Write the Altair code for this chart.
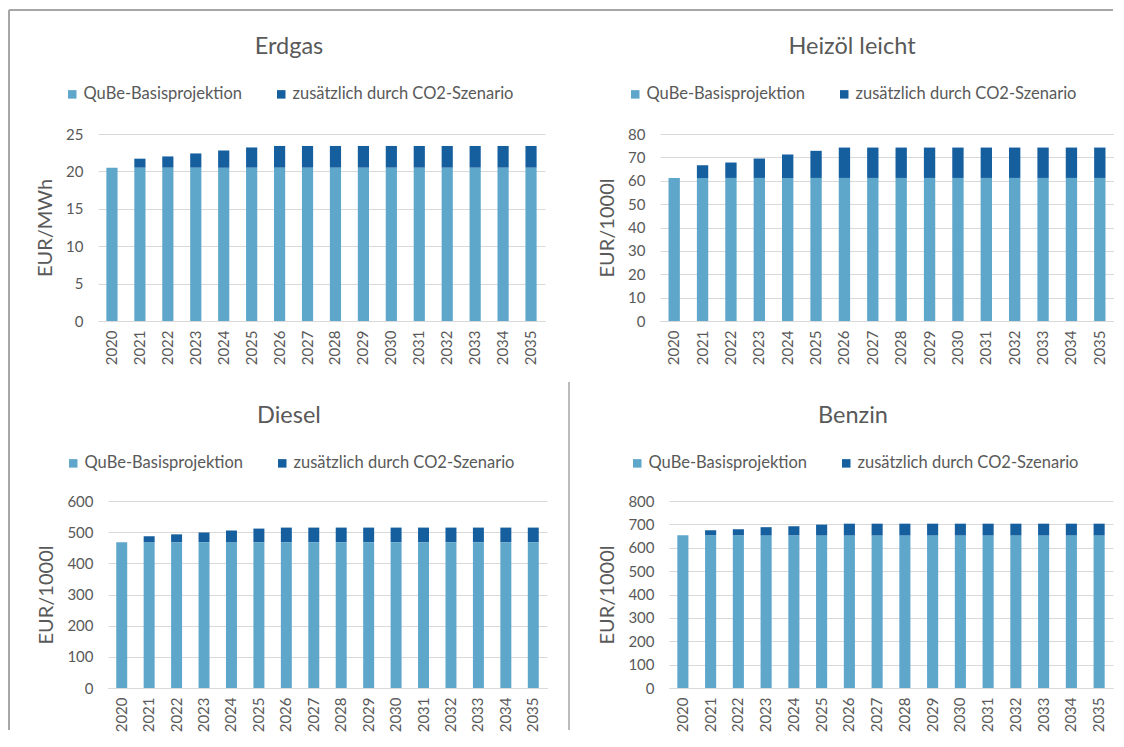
import altair as alt
import pandas as pd

years = ["2020", "2021", "2022", "2023", "2024", "2025", "2026", "2027",
         "2028", "2029", "2030", "2031", "2032", "2033", "2034", "2035"]
series_names = ["QuBe-Basisprojektion", "zusätzlich durch CO2-Szenario"]
colors = ["#5fa6cb", "#155f9f"]

erdgas_base = [20.5, 20.5, 20.5, 20.5, 20.5, 20.5, 20.5, 20.5,
               20.5, 20.5, 20.5, 20.5, 20.5, 20.5, 20.5, 20.5]
erdgas_extra = [0.0, 1.2, 1.5, 1.9, 2.3, 2.7, 2.9, 2.9,
                2.9, 2.9, 2.9, 2.9, 2.9, 2.9, 2.9, 2.9]
heizoel_base = [61.2, 61.2, 61.2, 61.2, 61.2, 61.2, 61.2, 61.2,
                61.2, 61.2, 61.2, 61.2, 61.2, 61.2, 61.2, 61.2]
heizoel_extra = [0.0, 5.4, 6.6, 8.3, 10.0, 11.6, 13.0, 13.0,
                 13.0, 13.0, 13.0, 13.0, 13.0, 13.0, 13.0, 13.0]
diesel_base = [468, 468, 468, 468, 468, 468, 468, 468,
               468, 468, 468, 468, 468, 468, 468, 468]
diesel_extra = [0, 19, 25, 31, 37, 43.5, 46.7, 46.7,
                46.7, 46.7, 46.7, 46.7, 46.7, 46.7, 46.7, 46.7]
benzin_base = [653, 653, 653, 653, 653, 653, 653, 653,
               653, 653, 653, 653, 653, 653, 653, 653]
benzin_extra = [0, 22, 26, 35, 39, 46, 50, 50,
                50, 50, 50, 50, 50, 50, 50, 50]

erdgas_ticks = [0, 5, 10, 15, 20, 25]
heizoel_ticks = [0, 10, 20, 30, 40, 50, 60, 70, 80]
diesel_ticks = [0, 100, 200, 300, 400, 500, 600]
benzin_ticks = [0, 100, 200, 300, 400, 500, 600, 700, 800]

TXT = "#595959"
GRID = "#d9d9d9"
FRAME = "#a6a6a6"


def panel(title, ytitle, base, extra, ticks, w, h, title_dx, lx, ly, inset=0):
    df = pd.DataFrame({
        "Jahr": years + years,
        "Reihe": [series_names[0]] * len(years) + [series_names[1]] * len(years),
        "Wert": list(base) + list(extra),
        "ord": [0] * len(years) + [1] * len(years),
    })
    xscale = dict(paddingInner=0.6, paddingOuter=0.3)
    yaxis_extra = {}
    if inset:
        xscale["range"] = [inset, w]
        yaxis_extra["offset"] = -inset
    return alt.Chart(df).mark_bar().encode(
        x=alt.X("Jahr:N", sort=years, title=None,
                scale=alt.Scale(**xscale),
                axis=alt.Axis(labelAngle=270, labelPadding=9, ticks=False,
                              domainColor=GRID, labelFontSize=15, grid=False)),
        y=alt.Y("Wert:Q", stack="zero", title=ytitle,
                scale=alt.Scale(domain=[ticks[0], ticks[-1]], nice=False),
                axis=alt.Axis(values=ticks, domain=False, ticks=False,
                              gridColor=GRID, labelPadding=15, titlePadding=10,
                              labelFontSize=15, titleFontSize=20,
                              titleFontWeight="normal", **yaxis_extra)),
        color=alt.Color("Reihe:N",
                        scale=alt.Scale(domain=series_names, range=colors),
                        legend=alt.Legend(orient="none", legendX=lx, legendY=ly,
                                          direction="horizontal", title=None,
                                          symbolType="square", symbolSize=72,
                                          symbolStrokeWidth=0,
                                          labelFontSize=16.5, labelLimit=400,
                                          columnPadding=30,
                                          labelOffset=3, padding=0)),
        order=alt.Order("ord:Q", sort="ascending"),
    ).properties(
        width=w, height=h,
        title=alt.TitleParams(title, fontSize=23.5, fontWeight="normal",
                              color=TXT, dx=title_dx, anchor="middle",
                              frame="group", offset=28))


erdgas = panel("Erdgas", "EUR/MWh", erdgas_base, erdgas_extra, erdgas_ticks,
               447, 187, -32.5, -34, -48)
heizoel = panel("Heizöl leicht", "EUR/1000l", heizoel_base, heizoel_extra,
                heizoel_ticks, 454, 187, -35, -33, -48)
diesel = panel("Diesel", "EUR/1000l", diesel_base, diesel_extra, diesel_ticks,
               449, 187, -33.5, -33, -46, inset=10)
benzin = panel("Benzin", "EUR/1000l", benzin_base, benzin_extra, benzin_ticks,
               444, 187, -38, -40, -46)

grid = alt.concat(erdgas, heizoel, diesel, benzin, columns=2, align="none",
                  spacing={"row": 38, "column": 50}).resolve_scale(
    color="independent").resolve_legend(color="independent")

# decorative frame of the original figure (outer border and divider)
frame_df = pd.DataFrame({"k": [0]})
frame_top = alt.Chart(frame_df).mark_rule(color=FRAME, strokeWidth=2).encode(
    x=alt.value(0), x2=alt.value(1104), y=alt.value(-124), y2=alt.value(-124))
frame_left = alt.Chart(frame_df).mark_rule(color=FRAME, strokeWidth=2).encode(
    x=alt.value(0), x2=alt.value(0), y=alt.value(-124), y2=alt.value(596))
divider = alt.Chart(frame_df).mark_rule(color=FRAME, strokeWidth=1.5).encode(
    x=alt.value(560), x2=alt.value(560), y=alt.value(248), y2=alt.value(596))
frame = alt.layer(frame_top, frame_left, divider).properties(width=1, height=1)

chart = alt.hconcat(frame, grid, spacing=88, bounds="flush").resolve_scale(
    color="independent").resolve_legend(color="independent").properties(
    padding={"left": 0, "top": 1, "right": 0, "bottom": 0}
).configure(
    font="Lato",
).configure_view(
    stroke=None
).configure_axis(
    labelFont="Lato", titleFont="Lato", labelColor=TXT, titleColor=TXT,
).configure_legend(
    labelFont="Lato", labelColor=TXT,
).configure_title(
    font="Lato", color=TXT,
)

chart.save("out.html", embed_options={"renderer": "svg", "actions": False})
